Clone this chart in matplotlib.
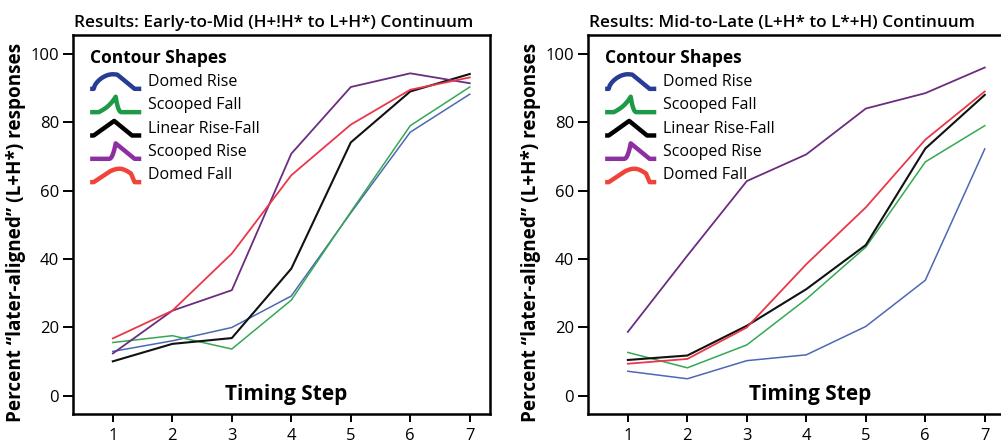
import numpy as np
import matplotlib
matplotlib.use("Agg")
import matplotlib.pyplot as plt
from matplotlib.lines import Line2D
from matplotlib.legend_handler import HandlerBase

plt.rcParams['font.family'] = ['Open Sans', 'DejaVu Sans']

# data
steps = [1, 2, 3, 4, 5, 6, 7]
shape_names = ["Domed Rise", "Scooped Fall", "Linear Rise-Fall", "Scooped Rise", "Domed Fall"]

early_domed_rise = [13.0, 16.1, 20.0, 29.2, 53.5, 77.1, 88.2]
early_scooped_fall = [15.6, 17.6, 13.7, 28.0, 53.8, 79.0, 90.3]
early_linear = [10.1, 15.2, 16.9, 37.2, 74.1, 89.0, 94.1]
early_scooped_rise = [12.4, 24.9, 30.9, 70.8, 90.3, 94.3, 91.4]
early_domed_fall = [16.8, 24.9, 41.6, 64.5, 79.3, 89.5, 93.1]

late_domed_rise = [7.2, 5.0, 10.3, 12.0, 20.3, 33.8, 72.2]
late_scooped_fall = [12.7, 8.2, 14.9, 28.3, 43.5, 68.4, 79.0]
late_linear = [10.5, 11.8, 20.5, 31.2, 44.1, 72.3, 88.0]
late_scooped_rise = [18.7, 41.0, 62.8, 70.6, 84.0, 88.5, 96.0]
late_domed_fall = [9.4, 10.8, 20.0, 38.5, 55.1, 74.9, 89.0]

yticks = [0, 20, 40, 60, 80, 100]

line_colors = ["#4d68b3", "#35a853", "#111111", "#6a2d80", "#e8384a"]
line_widths = [1.1, 1.1, 1.5, 1.3, 1.3]
icon_colors = ["#283c96", "#1c9a48", "#000000", "#8d2fa0", "#f0443a"]


def icon_shape(name):
    t = np.linspace(0, 1, 20)
    if name == "Domed Rise":
        rx = 0.07 + 0.38 * t
        ry = 0.1 + 0.85 * np.sin(t * np.pi / 2) ** 0.6
        xs = np.r_[0, rx, 0.53, 0.87, 1]
        ys = np.r_[0.1, ry, 0.93, 0.1, 0.1]
    elif name == "Scooped Fall":
        rx = 0.17 + 0.33 * t
        ry = 0.1 + 0.9 * (0.6 * t + 0.4 * t ** 3)
        fx = 0.5 + 0.12 * t
        fy = 0.1 + 0.9 * (1 - t) ** 2.5
        xs = np.r_[0, rx, fx, 1]
        ys = np.r_[0.1, ry, fy, 0.1]
    elif name == "Linear Rise-Fall":
        xs = [0, 0.07, 0.47, 0.82, 1]
        ys = [0.1, 0.1, 0.95, 0.1, 0.1]
    elif name == "Scooped Rise":
        rx = 0.37 + 0.13 * t
        ry = 0.1 + 0.9 * t ** 2.2
        xs = np.r_[0, rx, 0.87, 1]
        ys = np.r_[0.1, ry, 0.1, 0.1]
    else:
        dx = 0.4 + 0.4 * t
        dy = 0.75 + 0.2 * np.sin(t * np.pi) - 0.15 * t
        xs = np.r_[0, 0.07, dx, 0.87, 1]
        ys = np.r_[0.1, 0.1, dy, 0.1, 0.1]
    return np.asarray(xs, float), np.asarray(ys, float)


class ContourIcon:
    def __init__(self, name, color):
        self.name = name
        self.color = color


class HandlerContour(HandlerBase):
    def create_artists(self, legend, orig_handle, xdescent, ydescent,
                       width, height, fontsize, trans):
        xs, ys = icon_shape(orig_handle.name)
        ln = Line2D(-xdescent + xs * width, -ydescent - 0.2 * height + ys * height * 1.2,
                    color=orig_handle.color, lw=3.2, solid_capstyle='butt',
                    solid_joinstyle='round', transform=trans)
        return [ln]


fig = plt.figure(figsize=(10.01, 4.41), dpi=100)
ax1 = fig.add_axes([0.0729, 0.0612, 0.4166, 0.8594])
ax2 = fig.add_axes([0.5874, 0.0612, 0.4166, 0.8594])

panels = [
    (ax1, "Results: Early-to-Mid (H+!H* to L+H*) Continuum", 3.92,
     [early_domed_rise, early_scooped_fall, early_linear, early_scooped_rise, early_domed_fall]),
    (ax2, "Results: Mid-to-Late (L+H* to L*+H) Continuum", 4.07,
     [late_domed_rise, late_scooped_fall, late_linear, late_scooped_rise, late_domed_fall]),
]

for ax, title, xlab_pos, series in panels:
    for vals, c, lw in zip(series, line_colors, line_widths):
        ax.plot(steps, vals, color=c, lw=lw)
    ax.set_xlim(0.33, 7.34)
    ax.set_ylim(-5.3, 105.5)
    ax.set_xticks(steps)
    ax.set_yticks(yticks)
    ax.tick_params(direction='out', length=7, width=1.4, labelsize=12, pad=3)
    ax.tick_params(axis='x', length=6, pad=4)
    for sp in ax.spines.values():
        sp.set_linewidth(1.8)
    ax.set_title(title, loc='left', fontsize=12.3, fontweight='semibold', pad=6, x=0.003)
    ax.set_ylabel("Percent \u201clater-aligned\u201d (L+H*) responses",
                  fontsize=13.6, fontweight='bold', labelpad=3)
    ax.yaxis.label.set_y(0.48)
    ax.text(xlab_pos, 0.5, "Timing Step", fontsize=15, fontweight='bold',
            ha='center', va='center')
    handles = [ContourIcon(n, c) for n, c in zip(shape_names, icon_colors)]
    ax.legend(handles, shape_names, handler_map={ContourIcon: HandlerContour()},
              loc='upper left', bbox_to_anchor=(0.022, 0.985), borderpad=0,
              frameon=False, fontsize=11.5, handlelength=3.2, handleheight=1.0,
              handletextpad=0.45, labelspacing=0.42, title="Contour Shapes",
              title_fontproperties={'weight': 'bold', 'size': 12.5},
              alignment='left')

fig.savefig("out.png", dpi=100)
